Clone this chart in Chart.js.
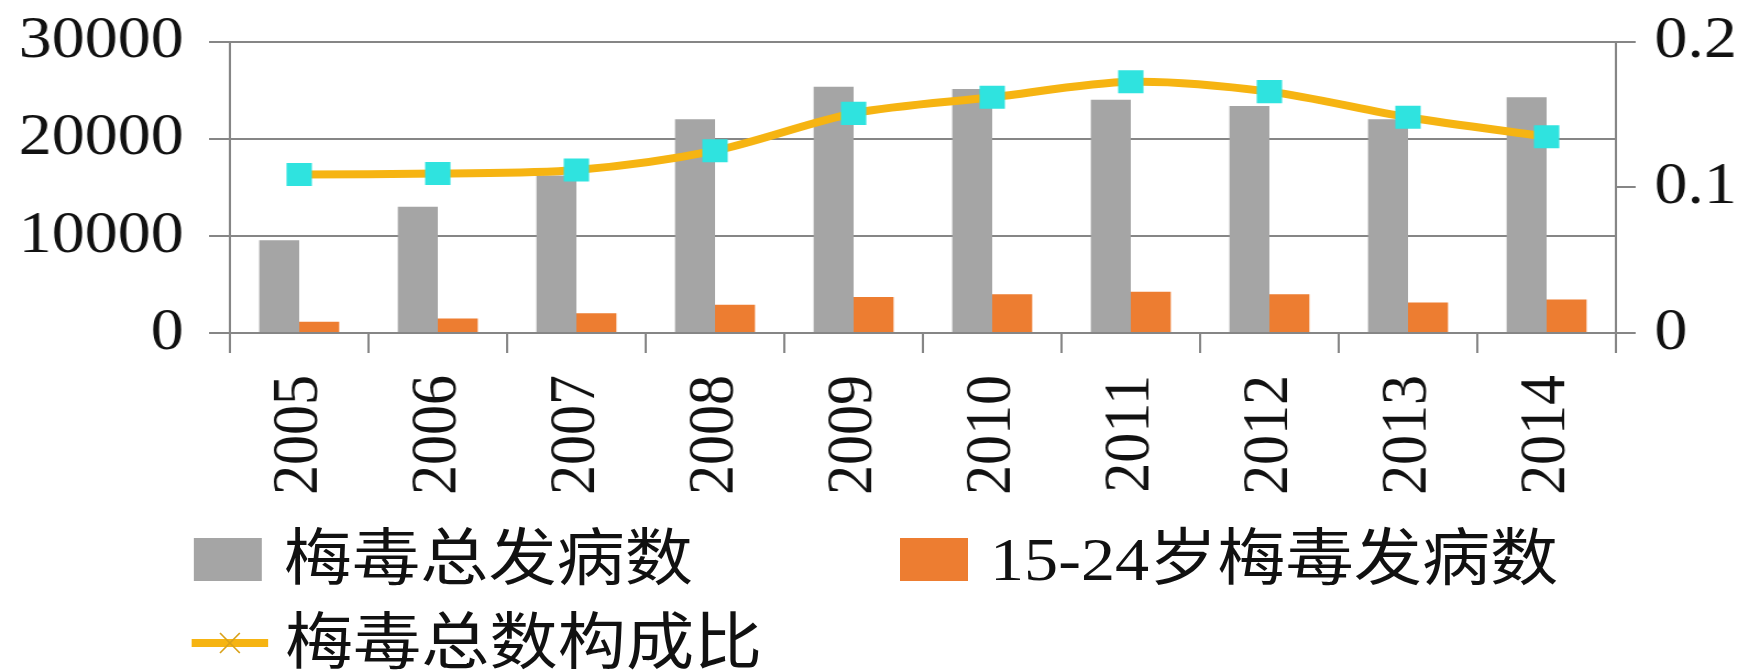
<!DOCTYPE html>
<html>
<head>
<meta charset="utf-8">
<script src="https://cdn.jsdelivr.net/npm/chart.js@4.4.0/dist/chart.umd.min.js"></script>
<style>
  html, body { margin: 0; padding: 0; background: #fff; overflow: hidden; width: 1758px; height: 671px; }
  /* the source picture is stretched sideways a little, so the whole stage is too */
  #stage { position: absolute; left: 0; top: 0; width: 1598px; height: 671px; transform: scaleX(1.1); transform-origin: 0 0; }
  #c { position: absolute; left: 0; top: 0; width: 1598px; height: 671px; }
  .item { position: absolute; height: 62px; display: flex; align-items: center; }
  .txt { font-family: "Liberation Serif", "Noto Sans CJK SC", serif; font-size: 62px; line-height: 62px; color: #111; white-space: nowrap; }
</style>
</head>
<body>
<div id="stage">
  <canvas id="c" width="1598" height="671"></canvas>
  <div id="legend"></div>
</div>
<script>
const years = ['2005', '2006', '2007', '2008', '2009', '2010', '2011', '2012', '2013', '2014'];
const totalCases = [9550, 13000, 16200, 22000, 25350, 25100, 24000, 23350, 22000, 24250];
const youthCases = [1150, 1500, 2030, 2900, 3700, 4000, 4250, 4000, 3150, 3450];
const totalRatio = [0.1087, 0.1094, 0.1118, 0.1251, 0.1507, 0.1617, 0.1724, 0.1656, 0.1480, 0.1347];
const seriesNames = ['梅毒总发病数', '15-24岁梅毒发病数', '梅毒总数构成比'];

const GRID = '#868686';
const GRAY = '#A5A5A5';
const ORANGE = '#ED7D31';
const GOLD = '#F6B412';
const CYAN = '#2FE3DF';
const tickFont = { family: '"Liberation Serif", "Times New Roman", serif', size: 60 };

// keep chart.js from pushing the plot area in for label overhang
function noPad(s) { s.paddingTop = 0; s.paddingBottom = 0; s.paddingLeft = 0; s.paddingRight = 0; }

const ctx = document.getElementById('c').getContext('2d');
const chart = new Chart(ctx, {
  type: 'bar',
  data: {
    labels: years,
    datasets: [
      {
        type: 'line',
        label: seriesNames[2],
        data: totalRatio,
        yAxisID: 'y1',
        borderColor: GOLD,
        borderWidth: 8,
        tension: 0.3,
        pointStyle: 'rect',
        pointRadius: 16.3,
        pointBackgroundColor: CYAN,
        pointBorderWidth: 0,
        order: 0,
      },
      { label: seriesNames[0], data: totalCases, backgroundColor: GRAY, yAxisID: 'y', order: 1 },
      { label: seriesNames[1], data: youthCases, backgroundColor: ORANGE, yAxisID: 'y', order: 2 },
    ],
  },
  options: {
    responsive: false,
    animation: false,
    devicePixelRatio: 1,
    layout: { padding: { top: 41.5, left: 0, right: 0, bottom: 0 } },
    datasets: { bar: { categoryPercentage: 0.577, barPercentage: 1.0 } },
    plugins: { legend: { display: false }, tooltip: { enabled: false } },
    scales: {
      x: {
        grid: { drawOnChartArea: false, color: GRID, lineWidth: 2, tickLength: 20, offset: true },
        border: { display: true, color: GRID, width: 2 },
        ticks: { font: tickFont, color: '#111', minRotation: 90, maxRotation: 90, padding: 22, autoSkip: false },
        afterFit(s) { s.height = 671 - 333; noPad(s); },
      },
      y: {
        position: 'left',
        min: 0,
        max: 30000,
        ticks: { stepSize: 10000, font: tickFont, color: '#111', padding: 23, callback: (v) => String(v) },
        grid: { color: GRID, lineWidth: 2, tickLength: 19 },
        border: { display: true, color: GRID, width: 2 },
        afterFit(s) { s.width = 209; noPad(s); },
      },
      y1: {
        position: 'right',
        min: 0,
        max: 0.2,
        ticks: {
          stepSize: 0.1, font: tickFont, color: '#111', padding: 17,
          callback: (v) => (v === 0 ? '0' : v.toFixed(1)),
        },
        grid: { drawOnChartArea: false, color: GRID, lineWidth: 2, tickLength: 18 },
        border: { display: true, color: GRID, width: 2 },
        afterFit(s) { s.width = 129; noPad(s); },
      },
    },
  },
});

// legend laid out the way the source (Excel) grid puts it
const legend = document.getElementById('legend');
const slots = [
  { ds: 1, x: 176, y: 559, kind: 'box' },
  { ds: 2, x: 818, y: 559, kind: 'box' },
  { ds: 0, x: 174, y: 643, kind: 'line' },
];
slots.forEach((s) => {
  const d = chart.data.datasets[s.ds];
  const item = document.createElement('div');
  item.className = 'item';
  item.style.left = s.x + 'px';
  item.style.top = (s.y - 31) + 'px';
  let sw;
  if (s.kind === 'box') {
    sw = document.createElement('div');
    sw.style.cssText = 'width:62px;height:43px;margin-right:20px;background:' + d.backgroundColor;
  } else {
    sw = document.createElementNS('http://www.w3.org/2000/svg', 'svg');
    sw.setAttribute('width', '70');
    sw.setAttribute('height', '30');
    sw.style.marginRight = '15px';
    sw.innerHTML =
      '<line x1="0" y1="15" x2="70" y2="15" stroke="' + d.borderColor + '" stroke-width="8"/>' +
      '<line x1="26" y1="5" x2="44" y2="25" stroke="#d9a21a" stroke-width="1.5"/>' +
      '<line x1="26" y1="25" x2="44" y2="5" stroke="#d9a21a" stroke-width="1.5"/>';
  }
  const t = document.createElement('span');
  t.className = 'txt';
  t.textContent = d.label;
  item.appendChild(sw);
  item.appendChild(t);
  legend.appendChild(item);
});
</script>
</body>
</html>
